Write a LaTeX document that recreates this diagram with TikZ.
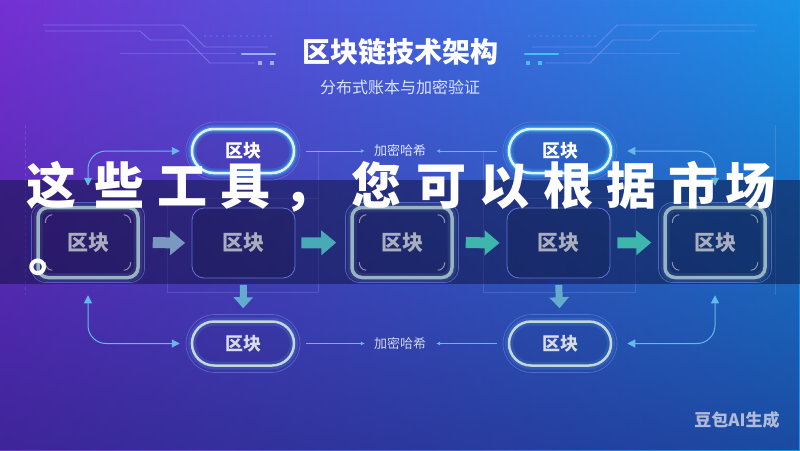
\documentclass[tikz,border=0pt]{standalone}
\usepackage{fontspec}
\newfontfamily\cjk{Noto Sans CJK SC}
\usetikzlibrary{arrows.meta,calc,fadings}
\definecolor{bgL}{RGB}{118,48,212}
\definecolor{bgM}{RGB}{55,78,212}
\definecolor{bgR}{RGB}{24,148,232}
\definecolor{bgDark}{RGB}{28,30,118}
\definecolor{bandc}{RGB}{14,16,60}
\definecolor{decoc}{RGB}{150,160,255}
\definecolor{decobar}{RGB}{150,175,255}
\definecolor{decocyan}{RGB}{70,190,255}
\definecolor{hborder}{RGB}{150,180,195}
\definecolor{hring}{RGB}{110,140,230}
\definecolor{nborder}{RGB}{95,115,215}
\definecolor{blktxt}{RGB}{168,174,190}
\definecolor{tpborder}{RGB}{225,242,255}
\definecolor{tpglow}{RGB}{60,200,255}
\definecolor{bpborder}{RGB}{198,214,220}
\definecolor{bpglow}{RGB}{80,170,225}
\definecolor{linkc}{RGB}{100,185,235}
\definecolor{arrA}{RGB}{122,152,192}
\definecolor{arrB}{RGB}{72,170,182}
\definecolor{arrC}{RGB}{62,182,172}
\definecolor{arrD}{RGB}{100,172,205}
\definecolor{lblc}{RGB}{220,230,255}
\definecolor{wmc}{RGB}{192,200,222}
\tikzfading[name=fadedown, top color=transparent!100, bottom color=transparent!38]
\newcommand{\decolines}[1]{%
  \draw[decoline] (43,25) -- (183,25) -- (205,47) -- (268,47);
  \draw[decoline] (45,31) -- (140,31) -- (150,40) -- (187,40) -- (210,63) -- (255,63);
  \draw[decoline, draw opacity=0.3] (120,53) -- (236,53);
  \draw[line width=2.2pt, #1, line cap=round] (242,54) -- (275,54);
  \fill[#1] (258,61) rectangle (262,65);
  \fill[#1] (270,61) rectangle (274,65);
  \foreach \k in {0,...,11} {\fill[decoc, opacity=0.45] (205+\k*6,36) circle (0.8);}
}
\begin{document}
\begin{tikzpicture}[x=1pt,y=-1pt,
  decoline/.style={draw=decoc, line width=0.8pt, draw opacity=0.5},
  faint/.style={draw=white, line width=0.6pt, draw opacity=0.12},
  hblock/.style={draw=hborder, line width=3.5pt, rounded corners=10pt,
    minimum width=100pt, minimum height=70pt, fill=black, fill opacity=0.10,
    text opacity=1, text=blktxt, font=\cjk\bfseries\fontsize{21}{21}\selectfont,
    preaction={draw=hborder, line width=9pt, draw opacity=0.12}},
  hringst/.style={draw=hring, line width=0.7pt, draw opacity=0.6, rounded corners=14pt,
    minimum width=113pt, minimum height=80pt},
  nblock/.style={draw=nborder, line width=0.8pt, rounded corners=12pt,
    minimum width=103pt, minimum height=70pt, fill=black, fill opacity=0.12,
    text opacity=1, text=blktxt, font=\cjk\bfseries\fontsize{21}{21}\selectfont},
  tpill/.style={draw=tpborder, line width=2.5pt, rounded corners=22pt,
    minimum width=102pt, minimum height=44pt, fill=black, fill opacity=0.04, text opacity=1,
    text=white, font=\cjk\bfseries\fontsize{18}{18}\selectfont,
    preaction={draw=tpglow, line width=9pt, draw opacity=0.22},
    preaction={draw=tpglow, line width=5pt, draw opacity=0.45}},
  bpill/.style={draw=bpborder, line width=2.5pt, rounded corners=22pt,
    minimum width=102pt, minimum height=44pt, fill=black, fill opacity=0.04, text opacity=1,
    text={rgb,255:red,215;green,220;blue,228}, font=\cjk\bfseries\fontsize{18}{18}\selectfont,
    preaction={draw=bpglow, line width=8pt, draw opacity=0.2}},
  pring/.style={draw=hring, line width=0.7pt, draw opacity=0.55, rounded corners=29pt,
    minimum width=114pt, minimum height=58pt},
  lbl/.style={text=lblc, font=\cjk\fontsize{13}{13}\selectfont, inner sep=2pt},
  link/.style={draw=linkc, line width=0.9pt, -{Latex[length=4pt,width=4pt]}},
  curve/.style={draw=linkc, line width=1pt, rounded corners=18pt,
    {Triangle[length=8pt,width=8pt]}-{Triangle[length=8pt,width=8pt]}},
  fat/.style={line width=11pt, -{Triangle[width=24pt,length=15pt]}},
  fatdown/.style={draw=arrD, line width=7pt, -{Triangle[width=19pt,length=11pt]}},
  ovl/.style={text=white, font=\cjk\bfseries\fontsize{50}{50}\selectfont, inner sep=0pt, anchor=base},
  corner/.style={draw=blktxt, line width=1pt, draw opacity=0.8}
]
\useasboundingbox (0,0) rectangle (800,450);
% background
\shade[left color=bgL, middle color=bgM, right color=bgR] (0,0) rectangle (800,450);
\fill[bgDark, path fading=fadedown] (0,0) rectangle (800,450);
% decorative circuit lines
\decolines{decobar}
\begin{scope}[xshift=800pt, xscale=-1]
  \decolines{decocyan}
\end{scope}
% faint background frame lines
\draw[faint, dashed] (25,125) -- (25,295);
\draw[faint] (167,198) rectangle (318,292);
\draw[faint] (483,198) rectangle (635,292);
\draw[faint] (318,150) -- (318,198);
\draw[faint] (483,150) -- (483,198);
\draw[faint] (775,125) -- (775,295);
% dark band
\fill[bandc, opacity=0.5] (0,180) rectangle (800,284);
% title
\node[text=white, font=\cjk\bfseries\fontsize{28}{28}\selectfont] (title) at (400,52) {区块链技术架构};
\node[text={rgb,255:red,218;green,228;blue,255}, font=\cjk\fontsize{16}{16}\selectfont] (sub) at (400,87) {分布式账本与加密验证};
% middle row
\node[hringst] (b1r) at (88,242.5) {};
\node[hblock] (b1) at (88,242.5) {区块};
\node[nblock] (b2) at (243.5,243) {区块};
\node[hringst] (b3r) at (402,242.5) {};
\node[hblock] (b3) at (402,242.5) {区块};
\node[nblock] (b4) at (558.5,243) {区块};
\node[hringst] (b5r) at (715,242.5) {};
\node[hblock] (b5) at (715,242.5) {区块};
% corner marks
\foreach \n in {b1,b3,b5} {
  \draw[corner] ($(\n.north west)+(9,17)$) to[out=90,in=180] ($(\n.north west)+(16,9)$);
  \draw[corner] ($(\n.north east)+(-16,9)$) to[out=0,in=90] ($(\n.north east)+(-9,17)$);
  \draw[corner] ($(\n.south east)+(-9,-17)$) to[out=-90,in=0] ($(\n.south east)+(-16,-9)$);
  \draw[corner] ($(\n.south west)+(16,-9)$) to[out=180,in=-90] ($(\n.south west)+(9,-17)$);
}
% pills
\node[pring] (p1r) at (243,151) {};
\node[tpill] (p1) at (243,151) {区块};
\node[pring] (p2r) at (560,151) {};
\node[tpill] (p2) at (560,151) {区块};
\node[pring] (p3r) at (243,343.5) {};
\node[bpill] (p3) at (243,343.5) {区块};
\node[pring] (p4r) at (560,343.5) {};
\node[bpill] (p4) at (560,343.5) {区块};
% labels
\node[lbl] (l1) at (400,151) {加密哈希};
\node[lbl, text={rgb,255:red,205;green,214;blue,232}] (l2) at (400,343.5) {加密哈希};
% label links
\draw[link, shorten <=11pt, shorten >=7pt] (p1.east) -- (l1.west);
\draw[link, shorten <=11pt, shorten >=8pt] (p2.west) -- (l1.east);
\draw[link, shorten <=11pt, shorten >=7pt] (p3.east) -- (l2.west);
\draw[link, shorten <=11pt, shorten >=8pt] (p4.west) -- (l2.east);
% curved side connectors
\draw[curve, shorten <=20pt, shorten >=11pt] (b1.north) |- (p1.west);
\draw[curve, shorten <=20pt, shorten >=15pt] (b5.north) |- (p2.east);
\draw[curve, shorten <=16pt, shorten >=11pt] (b1.south) |- (p3.west);
\draw[curve, shorten <=16pt, shorten >=15pt] (b5.south) |- (p4.east);
% fat arrows
\draw[fat, draw=arrA, shorten <=13pt, shorten >=6.5pt] (b1.east) -- (b2.west);
\draw[fat, draw=arrB, shorten <=6pt, shorten >=14pt] (b2.east) -- (b3.west);
\draw[fat, draw=arrC, shorten <=12pt, shorten >=7pt] (b3.east) -- (b4.west);
\draw[fat, draw=arrC, shorten <=7pt, shorten >=12pt] (b4.east) -- (b5.west);
\draw[fatdown, shorten <=6.5pt, shorten >=12pt] (b2.south) -- (p3.north);
\draw[fatdown, shorten <=6.5pt, shorten >=12pt] (b4.south) -- (p4.north);
% watermark
\node[text=wmc, text opacity=0.9, font=\cjk\bfseries\fontsize{17}{17}\selectfont] (wm) at (737,420) {豆包AI生成};
% overlay text
\foreach \c/\x [count=\i] in {这/52,些/119,工/182,具/245,，/308,您/376,可/441,以/504,根/568,据/631,市/693,场/750} {
  \node[ovl] (ov\i) at (\x,204) {\c};
}
\node[ovl, anchor=base west] (ovdot) at (28,271) {\makebox[20pt][l]{\raisebox{0pt}[14pt][0pt]{。}}};
\end{tikzpicture}
\end{document}
